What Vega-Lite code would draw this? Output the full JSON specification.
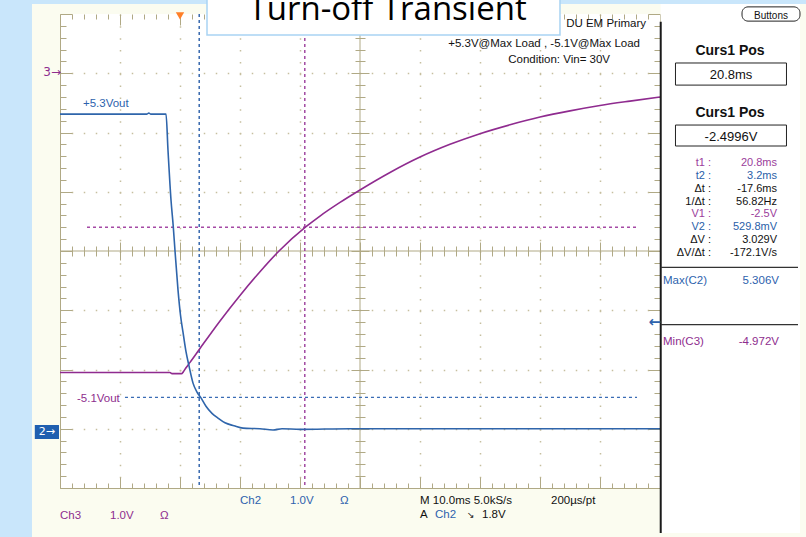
{
  "$schema": "https://vega.github.io/schema/vega-lite/v6.json",
  "width": 600,
  "height": 474,
  "autosize": {"type": "none"},
  "padding": {"left": 60, "top": 14, "right": 146, "bottom": 49},
  "background": "#fbfcf0",
  "config": {"view": {"stroke": null, "fill": "#ffffff"}, "axis": {"disable": true}},
  "data": {"values": [{}]},
  "datasets": {
    "ch2": [
      {"t": -20, "v": 5.31}, {"t": -5.5, "v": 5.31}, {"t": -5.2, "v": 5.33}, {"t": -4.9, "v": 5.31},
      {"t": -2.33, "v": 5.31}, {"t": -2.0, "v": 4.70}, {"t": -1.5, "v": 3.86}, {"t": -1.12, "v": 3.41},
      {"t": -0.83, "v": 3.00}, {"t": -0.33, "v": 2.34}, {"t": 0.08, "v": 1.92}, {"t": 0.5, "v": 1.63},
      {"t": 1.0, "v": 1.30}, {"t": 1.5, "v": 1.06}, {"t": 2.17, "v": 0.77}, {"t": 2.83, "v": 0.62},
      {"t": 3.5, "v": 0.52}, {"t": 4.33, "v": 0.38}, {"t": 5.33, "v": 0.26}, {"t": 6.33, "v": 0.18},
      {"t": 7.5, "v": 0.10}, {"t": 9.0, "v": 0.05}, {"t": 10.5, "v": 0.01}, {"t": 13.33, "v": 0.0},
      {"t": 15.5, "v": -0.02}, {"t": 17, "v": 0.0}, {"t": 20, "v": -0.01}, {"t": 28.3, "v": 0.0},
      {"t": 45, "v": 0.0}, {"t": 80, "v": 0.0}
    ],
    "ch3": [
      {"t": -20, "v": -4.95}, {"t": -1.67, "v": -4.95}, {"t": -1.33, "v": -4.97}, {"t": 0.25, "v": -4.97},
      {"t": 0.55, "v": -4.94}, {"t": 1.0, "v": -4.87}, {"t": 1.67, "v": -4.78}, {"t": 3.33, "v": -4.545},
      {"t": 6.67, "v": -4.08}, {"t": 10, "v": -3.65}, {"t": 13.33, "v": -3.25}, {"t": 16.5, "v": -2.90},
      {"t": 21, "v": -2.49}, {"t": 23.33, "v": -2.31}, {"t": 26.67, "v": -2.08}, {"t": 30, "v": -1.87},
      {"t": 35, "v": -1.575}, {"t": 40, "v": -1.315}, {"t": 45, "v": -1.10}, {"t": 50, "v": -0.92},
      {"t": 55, "v": -0.77}, {"t": 60, "v": -0.64}, {"t": 65, "v": -0.535}, {"t": 70, "v": -0.445},
      {"t": 75, "v": -0.37}, {"t": 80, "v": -0.30}
    ],
    "cursors": [
      {"cursor": "t1", "t": 20.8, "src": "C3"},
      {"cursor": "t2", "t": 3.2, "src": "C2"}
    ],
    "readout": [
      {"row": 1, "label": "t1 :", "value": "20.8ms", "src": "C3"},
      {"row": 2, "label": "t2 :", "value": "3.2ms", "src": "C2"},
      {"row": 3, "label": "Δt :", "value": "-17.6ms", "src": "calc"},
      {"row": 4, "label": "1/Δt :", "value": "56.82Hz", "src": "calc"},
      {"row": 5, "label": "V1 :", "value": "-2.5V", "src": "C3"},
      {"row": 6, "label": "V2 :", "value": "529.8mV", "src": "C2"},
      {"row": 7, "label": "ΔV :", "value": "3.029V", "src": "calc"},
      {"row": 8, "label": "ΔV/Δt :", "value": "-172.1V/s", "src": "calc"}
    ]
  },
  "layer": [
    {"mark": {"type": "rect", "color": "#c9e6fb"},
     "encoding": {"x": {"datum": -31, "type": "quantitative", "scale": {"domain": [-20, 80], "nice": false, "zero": false}}, "x2": {"datum": -24.67},
                  "y": {"datum": 7.4, "type": "quantitative", "scale": {"domain": [-1, 7], "nice": false, "zero": false}}, "y2": {"datum": -1.95}}},
    {"mark": {"type": "rect", "color": "#c9e6fb"},
     "encoding": {"x": {"datum": -31, "type": "quantitative", "scale": {"domain": [-20, 80], "nice": false, "zero": false}}, "x2": {"datum": 105},
                  "y": {"datum": 7.4, "type": "quantitative", "scale": {"domain": [-1, 7], "nice": false, "zero": false}}, "y2": {"datum": 7.169}}},
    {"mark": {"type": "rect", "color": "#ffffff"},
     "encoding": {"x": {"datum": 80.1, "type": "quantitative", "scale": {"domain": [-20, 80], "nice": false, "zero": false}}, "x2": {"datum": 103.33},
                  "y": {"datum": 7.169, "type": "quantitative", "scale": {"domain": [-1, 7], "nice": false, "zero": false}}, "y2": {"datum": -1.76}}},
    {"mark": {"type": "rule", "color": "#b0a985", "strokeWidth": 1},
     "encoding": {
       "x": {"datum": -20, "type": "quantitative", "scale": {"domain": [-20, 80], "nice": false, "zero": false},
             "axis": {"disable": false, "orient": "top", "offset": -474, "values": [-20,-18,-16,-14,-12,-10,-8,-6,-4,-2,0,2,4,6,8,10,12,14,16,18,20,22,24,26,28,30,32,34,36,38,40,42,44,46,48,50,52,54,56,58,60,62,64,66,68,70,72,74,76,78,80],
                      "tickSize": {"condition": {"test": "datum.value % 10 === 0", "value": 11}, "value": 5}, "tickColor": "#b0a985", "domain": true, "domainColor": "#b0a985", "labels": false, "grid": false, "title": null}},
       "x2": {"datum": 80},
       "y": {"datum": 3, "type": "quantitative", "scale": {"domain": [-1, 7], "nice": false, "zero": false},
             "axis": {"disable": false, "orient": "right", "offset": -600, "values": [-1,-0.8,-0.6,-0.4,-0.2,0,0.2,0.4,0.6,0.8,1,1.2,1.4,1.6,1.8,2,2.2,2.4,2.6,2.8,3,3.2,3.4,3.6,3.8,4,4.2,4.4,4.6,4.8,5,5.2,5.4,5.6,5.8,6,6.2,6.4,6.6,6.8,7],
                      "tickSize": {"condition": {"test": "datum.value % 1 === 0", "value": 12}, "value": 6}, "tickColor": "#b0a985", "domain": true, "domainColor": "#b0a985", "labels": false, "grid": false, "title": null}}
     }},
    {"mark": {"type": "rule", "color": "#b0a985", "strokeWidth": 1},
     "encoding": {
       "x": {"datum": 30, "type": "quantitative", "scale": {"domain": [-20, 80], "nice": false, "zero": false},
             "axis": {"disable": false, "orient": "bottom", "values": [-10, 0, 10, 20, 40, 50, 60, 70], "grid": true, "gridColor": "#c6bf9f", "gridDash": [1.5, 10.35], "gridWidth": 1.5, "ticks": false, "domain": false, "labels": false, "title": null}},
       "y": {"datum": -1, "type": "quantitative", "scale": {"domain": [-1, 7], "nice": false, "zero": false},
             "axis": {"disable": false, "orient": "left", "values": [0, 1, 2, 4, 5, 6], "grid": true, "gridColor": "#c6bf9f", "gridDash": [1.5, 10.5], "gridDashOffset": 0.75, "gridWidth": 1.5, "ticks": false, "domain": false, "labels": false, "title": null}},
       "y2": {"datum": 7}
     }},
    {"mark": {"type": "rule", "stroke": "#3a6cb5", "strokeWidth": 1.4, "strokeDash": [3, 3]},
     "encoding": {
       "x": {"datum": -9.17, "type": "quantitative", "scale": {"domain": [-20, 80], "nice": false, "zero": false},
             "axis": {"disable": false, "orient": "top", "offset": -242, "values": [-20,-18,-16,-14,-12,-10,-8,-6,-4,-2,0,2,4,6,8,10,12,14,16,18,20,22,24,26,28,30,32,34,36,38,40,42,44,46,48,50,52,54,56,58,60,62,64,66,68,70,72,74,76,78,80],
                      "tickSize": 10, "tickColor": "#b0a985", "domain": false, "labels": false, "grid": false, "title": null}},
       "x2": {"datum": 76.17},
       "y": {"datum": 0.5298, "type": "quantitative", "scale": {"domain": [-1, 7], "nice": false, "zero": false},
             "axis": {"disable": false, "orient": "left", "offset": -305, "values": [-1,-0.8,-0.6,-0.4,-0.2,0,0.2,0.4,0.6,0.8,1,1.2,1.4,1.6,1.8,2,2.2,2.4,2.6,2.8,3,3.2,3.4,3.6,3.8,4,4.2,4.4,4.6,4.8,5,5.2,5.4,5.6,5.8,6,6.2,6.4,6.6,6.8,7],
                      "tickSize": 10, "tickColor": "#b0a985", "domain": false, "labels": false, "grid": false, "title": null}}
     }},
    {"mark": {"type": "rule", "stroke": "#a54aa5", "strokeWidth": 1.4, "strokeDash": [3, 3]},
     "encoding": {
       "x": {"datum": -15.5, "type": "quantitative", "scale": {"domain": [-20, 80], "nice": false, "zero": false}},
       "x2": {"datum": 76.17},
       "y": {"datum": -2.5, "type": "quantitative", "scale": {"domain": [-6.9, 1.1], "nice": false, "zero": false}}
     }},
    {"data": {"name": "cursors"},
     "mark": {"type": "rule", "strokeWidth": 1.4, "strokeDash": [3, 3]},
     "encoding": {
       "x": {"field": "t", "type": "quantitative", "scale": {"domain": [-20, 80], "nice": false, "zero": false}},
       "color": {"field": "src", "type": "nominal", "scale": {"domain": ["C2", "C3", "calc"], "range": ["#2a5ea8", "#9b3d9b", "#111111"]}, "legend": null}
     }},
    {"data": {"name": "ch3"},
     "mark": {"type": "line", "color": "#8f2b8f", "strokeWidth": 1.6, "interpolate": "monotone"},
     "encoding": {
       "x": {"field": "t", "type": "quantitative", "scale": {"domain": [-20, 80], "nice": false, "zero": false}},
       "y": {"field": "v", "type": "quantitative", "scale": {"domain": [-6.9, 1.1], "nice": false, "zero": false}}
     }},
    {"data": {"name": "ch2"},
     "mark": {"type": "line", "color": "#2f65ab", "strokeWidth": 1.6, "interpolate": "monotone"},
     "encoding": {
       "x": {"field": "t", "type": "quantitative", "scale": {"domain": [-20, 80], "nice": false, "zero": false},
             "axis": {"disable": false, "orient": "bottom", "offset": -474, "values": [-20,-18,-16,-14,-12,-10,-8,-6,-4,-2,0,2,4,6,8,10,12,14,16,18,20,22,24,26,28,30,32,34,36,38,40,42,44,46,48,50,52,54,56,58,60,62,64,66,68,70,72,74,76,78,80],
                      "tickSize": {"condition": {"test": "datum.value % 10 === 0", "value": 11}, "value": 5}, "tickColor": "#b0a985", "domain": false, "labels": false, "grid": false, "title": null}},
       "y": {"field": "v", "type": "quantitative", "scale": {"domain": [-1, 7], "nice": false, "zero": false},
             "axis": {"disable": false, "orient": "left", "offset": -600, "values": [-1,-0.8,-0.6,-0.4,-0.2,0,0.2,0.4,0.6,0.8,1,1.2,1.4,1.6,1.8,2,2.2,2.4,2.6,2.8,3,3.2,3.4,3.6,3.8,4,4.2,4.4,4.6,4.8,5,5.2,5.4,5.6,5.8,6,6.2,6.4,6.6,6.8,7],
                      "tickSize": {"condition": {"test": "datum.value % 1 === 0", "value": 12}, "value": 6}, "tickColor": "#b0a985", "domain": false, "labels": false, "grid": false, "title": null}}
     }},
    {"mark": {"type": "rule", "color": "#1a1a1a", "strokeWidth": 2},
     "encoding": {
       "x": {"datum": 80.12, "type": "quantitative", "scale": {"domain": [-20, 80], "nice": false, "zero": false},
             "axis": {"disable": false, "orient": "top", "offset": -246, "values": [-20,-10,0,10,20,30,40,50,60,70,80], "tickSize": 18, "tickColor": "#b0a985", "domain": false, "labels": false, "grid": false, "title": null}},
       "y": {"datum": 6.87, "type": "quantitative", "scale": {"domain": [-1, 7], "nice": false, "zero": false},
             "axis": {"disable": false, "orient": "left", "offset": -309, "values": [-1,0,1,2,3,4,5,6,7], "tickSize": 18, "tickColor": "#b0a985", "domain": false, "labels": false, "grid": false, "title": null}},
       "y2": {"datum": -1.76}
     }},
    {"mark": {"type": "text", "text": "+5.3Vout", "align": "left", "baseline": "alphabetic", "font": "Liberation Sans", "fontSize": 11.5, "color": "#2d62ad"},
     "encoding": {"x": {"datum": -16.17, "type": "quantitative", "scale": {"domain": [-20, 80], "nice": false, "zero": false}}, "y": {"datum": 5.43, "type": "quantitative", "scale": {"domain": [-1, 7], "nice": false, "zero": false}}}},
    {"mark": {"type": "text", "text": "-5.1Vout", "align": "left", "baseline": "alphabetic", "font": "Liberation Sans", "fontSize": 11.5, "color": "#8e2d8e"},
     "encoding": {"x": {"datum": -17.17, "type": "quantitative", "scale": {"domain": [-20, 80], "nice": false, "zero": false}}, "y": {"datum": 0.451, "type": "quantitative", "scale": {"domain": [-1, 7], "nice": false, "zero": false}}}},
    {"mark": {"type": "text", "text": "3→", "align": "right", "baseline": "middle", "font": "DejaVu Sans", "fontSize": 12, "color": "#8e2d8e"},
     "encoding": {"x": {"datum": -19.83, "type": "quantitative", "scale": {"domain": [-20, 80], "nice": false, "zero": false}}, "y": {"datum": 6.02, "type": "quantitative", "scale": {"domain": [-1, 7], "nice": false, "zero": false}}}},
    {"mark": {"type": "rect", "color": "#1f5fb0"},
     "encoding": {"x": {"datum": -24.2, "type": "quantitative", "scale": {"domain": [-20, 80], "nice": false, "zero": false}}, "x2": {"datum": -20.17},
                  "y": {"datum": 0.063, "type": "quantitative", "scale": {"domain": [-1, 7], "nice": false, "zero": false}}, "y2": {"datum": -0.173}}},
    {"mark": {"type": "text", "text": "2→", "align": "center", "baseline": "middle", "font": "DejaVu Sans", "fontSize": 11, "color": "#ffffff"},
     "encoding": {"x": {"datum": -22.17, "type": "quantitative", "scale": {"domain": [-20, 80], "nice": false, "zero": false}}, "y": {"datum": -0.055, "type": "quantitative", "scale": {"domain": [-1, 7], "nice": false, "zero": false}}}},
    {"mark": {"type": "point", "shape": "triangle-down", "filled": true, "color": "#ff7f27", "size": 70, "opacity": 1},
     "encoding": {"x": {"datum": 0, "type": "quantitative", "scale": {"domain": [-20, 80], "nice": false, "zero": false}}, "y": {"datum": 6.967, "type": "quantitative", "scale": {"domain": [-1, 7], "nice": false, "zero": false}}}},
    {"mark": {"type": "text", "text": "←", "align": "right", "baseline": "middle", "font": "DejaVu Sans", "fontSize": 15, "fontWeight": "bold", "color": "#2d62ad"},
     "encoding": {"x": {"datum": 80.17, "type": "quantitative", "scale": {"domain": [-20, 80], "nice": false, "zero": false}}, "y": {"datum": 1.8, "type": "quantitative", "scale": {"domain": [-1, 7], "nice": false, "zero": false}}}},
    {"mark": {"type": "text", "text": "DU EM Primary", "align": "right", "baseline": "alphabetic", "font": "Liberation Sans", "fontSize": 11.5, "color": "#111111"},
     "encoding": {"x": {"datum": 77.67, "type": "quantitative", "scale": {"domain": [-20, 80], "nice": false, "zero": false}}, "y": {"datum": 6.78, "type": "quantitative", "scale": {"domain": [-1, 7], "nice": false, "zero": false}}}},
    {"mark": {"type": "text", "text": "+5.3V@Max Load , -5.1V@Max Load", "align": "right", "baseline": "alphabetic", "font": "Liberation Sans", "fontSize": 11.5, "color": "#111111"},
     "encoding": {"x": {"datum": 76.67, "type": "quantitative", "scale": {"domain": [-20, 80], "nice": false, "zero": false}}, "y": {"datum": 6.445, "type": "quantitative", "scale": {"domain": [-1, 7], "nice": false, "zero": false}}}},
    {"mark": {"type": "text", "text": "Condition: Vin= 30V", "align": "right", "baseline": "alphabetic", "font": "Liberation Sans", "fontSize": 11.5, "color": "#111111"},
     "encoding": {"x": {"datum": 71.67, "type": "quantitative", "scale": {"domain": [-20, 80], "nice": false, "zero": false}}, "y": {"datum": 6.17, "type": "quantitative", "scale": {"domain": [-1, 7], "nice": false, "zero": false}}}},
    {"mark": {"type": "rect", "fill": "#ffffff", "stroke": "#a9d3f3", "strokeWidth": 1.5},
     "encoding": {"x": {"datum": 4.5, "type": "quantitative", "scale": {"domain": [-20, 80], "nice": false, "zero": false}}, "x2": {"datum": 63.33},
                  "y": {"datum": 7.3, "type": "quantitative", "scale": {"domain": [-1, 7], "nice": false, "zero": false}}, "y2": {"datum": 6.646}}},
    {"mark": {"type": "text", "text": "Turn-off Transient", "align": "center", "baseline": "alphabetic", "font": "Open Sans", "fontSize": 33, "color": "#000000"},
     "encoding": {"x": {"datum": 34.6, "type": "quantitative", "scale": {"domain": [-20, 80], "nice": false, "zero": false}}, "y": {"datum": 6.9, "type": "quantitative", "scale": {"domain": [-1, 7], "nice": false, "zero": false}}}},
    {"mark": {"type": "text", "text": "Ch2", "align": "left", "baseline": "alphabetic", "font": "Liberation Sans", "fontSize": 11.5, "color": "#2d62ad"},
     "encoding": {"x": {"datum": 10, "type": "quantitative", "scale": {"domain": [-20, 80], "nice": false, "zero": false}}, "y": {"datum": -1.27, "type": "quantitative", "scale": {"domain": [-1, 7], "nice": false, "zero": false}}}},
    {"mark": {"type": "text", "text": "1.0V", "align": "left", "baseline": "alphabetic", "font": "Liberation Sans", "fontSize": 11.5, "color": "#2d62ad"},
     "encoding": {"x": {"datum": 18.33, "type": "quantitative", "scale": {"domain": [-20, 80], "nice": false, "zero": false}}, "y": {"datum": -1.27, "type": "quantitative", "scale": {"domain": [-1, 7], "nice": false, "zero": false}}}},
    {"mark": {"type": "text", "text": "Ω", "align": "left", "baseline": "alphabetic", "font": "Liberation Sans", "fontSize": 11.5, "color": "#2d62ad"},
     "encoding": {"x": {"datum": 26.67, "type": "quantitative", "scale": {"domain": [-20, 80], "nice": false, "zero": false}}, "y": {"datum": -1.27, "type": "quantitative", "scale": {"domain": [-1, 7], "nice": false, "zero": false}}}},
    {"mark": {"type": "text", "text": "Ch3", "align": "left", "baseline": "alphabetic", "font": "Liberation Sans", "fontSize": 11.5, "color": "#8e2d8e"},
     "encoding": {"x": {"datum": -20, "type": "quantitative", "scale": {"domain": [-20, 80], "nice": false, "zero": false}}, "y": {"datum": -1.515, "type": "quantitative", "scale": {"domain": [-1, 7], "nice": false, "zero": false}}}},
    {"mark": {"type": "text", "text": "1.0V", "align": "left", "baseline": "alphabetic", "font": "Liberation Sans", "fontSize": 11.5, "color": "#8e2d8e"},
     "encoding": {"x": {"datum": -11.67, "type": "quantitative", "scale": {"domain": [-20, 80], "nice": false, "zero": false}}, "y": {"datum": -1.515, "type": "quantitative", "scale": {"domain": [-1, 7], "nice": false, "zero": false}}}},
    {"mark": {"type": "text", "text": "Ω", "align": "left", "baseline": "alphabetic", "font": "Liberation Sans", "fontSize": 11.5, "color": "#8e2d8e"},
     "encoding": {"x": {"datum": -3.33, "type": "quantitative", "scale": {"domain": [-20, 80], "nice": false, "zero": false}}, "y": {"datum": -1.515, "type": "quantitative", "scale": {"domain": [-1, 7], "nice": false, "zero": false}}}},
    {"mark": {"type": "text", "text": "M 10.0ms 5.0kS/s", "align": "left", "baseline": "alphabetic", "font": "Liberation Sans", "fontSize": 11.5, "color": "#111111"},
     "encoding": {"x": {"datum": 40, "type": "quantitative", "scale": {"domain": [-20, 80], "nice": false, "zero": false}}, "y": {"datum": -1.27, "type": "quantitative", "scale": {"domain": [-1, 7], "nice": false, "zero": false}}}},
    {"mark": {"type": "text", "text": "200µs/pt", "align": "left", "baseline": "alphabetic", "font": "Liberation Sans", "fontSize": 11.5, "color": "#111111"},
     "encoding": {"x": {"datum": 61.83, "type": "quantitative", "scale": {"domain": [-20, 80], "nice": false, "zero": false}}, "y": {"datum": -1.27, "type": "quantitative", "scale": {"domain": [-1, 7], "nice": false, "zero": false}}}},
    {"mark": {"type": "text", "text": "A", "align": "left", "baseline": "alphabetic", "font": "Liberation Sans", "fontSize": 11.5, "color": "#111111"},
     "encoding": {"x": {"datum": 40, "type": "quantitative", "scale": {"domain": [-20, 80], "nice": false, "zero": false}}, "y": {"datum": -1.498, "type": "quantitative", "scale": {"domain": [-1, 7], "nice": false, "zero": false}}}},
    {"mark": {"type": "text", "text": "Ch2", "align": "left", "baseline": "alphabetic", "font": "Liberation Sans", "fontSize": 11.5, "color": "#2d62ad"},
     "encoding": {"x": {"datum": 42.5, "type": "quantitative", "scale": {"domain": [-20, 80], "nice": false, "zero": false}}, "y": {"datum": -1.498, "type": "quantitative", "scale": {"domain": [-1, 7], "nice": false, "zero": false}}}},
    {"mark": {"type": "text", "text": "↘", "align": "left", "baseline": "alphabetic", "font": "DejaVu Sans", "fontSize": 9, "color": "#111111"},
     "encoding": {"x": {"datum": 47.83, "type": "quantitative", "scale": {"domain": [-20, 80], "nice": false, "zero": false}}, "y": {"datum": -1.498, "type": "quantitative", "scale": {"domain": [-1, 7], "nice": false, "zero": false}}}},
    {"mark": {"type": "text", "text": "1.8V", "align": "left", "baseline": "alphabetic", "font": "Liberation Sans", "fontSize": 11.5, "color": "#111111"},
     "encoding": {"x": {"datum": 50.33, "type": "quantitative", "scale": {"domain": [-20, 80], "nice": false, "zero": false}}, "y": {"datum": -1.498, "type": "quantitative", "scale": {"domain": [-1, 7], "nice": false, "zero": false}}}},
    {"mark": {"type": "rect", "fill": "#ffffff", "stroke": "#222222", "strokeWidth": 1, "cornerRadius": 6},
     "encoding": {"x": {"datum": 93.67, "type": "quantitative", "scale": {"domain": [-20, 80], "nice": false, "zero": false}}, "x2": {"datum": 103.33},
                  "y": {"datum": 7.12, "type": "quantitative", "scale": {"domain": [-1, 7], "nice": false, "zero": false}}, "y2": {"datum": 6.88}}},
    {"mark": {"type": "text", "text": "Buttons", "align": "center", "baseline": "alphabetic", "font": "Liberation Sans", "fontSize": 10, "color": "#111111"},
     "encoding": {"x": {"datum": 98.5, "type": "quantitative", "scale": {"domain": [-20, 80], "nice": false, "zero": false}}, "y": {"datum": 6.92, "type": "quantitative", "scale": {"domain": [-1, 7], "nice": false, "zero": false}}}},
    {"mark": {"type": "text", "text": "Curs1 Pos", "align": "center", "baseline": "alphabetic", "font": "Liberation Sans", "fontSize": 14, "fontWeight": "bold", "color": "#111111"},
     "encoding": {"x": {"datum": 91.67, "type": "quantitative", "scale": {"domain": [-20, 80], "nice": false, "zero": false}}, "y": {"datum": 6.307, "type": "quantitative", "scale": {"domain": [-1, 7], "nice": false, "zero": false}}}},
    {"mark": {"type": "rect", "fill": "#ffffff", "stroke": "#222222", "strokeWidth": 1},
     "encoding": {"x": {"datum": 82.58, "type": "quantitative", "scale": {"domain": [-20, 80], "nice": false, "zero": false}}, "x2": {"datum": 101.08},
                  "y": {"datum": 6.173, "type": "quantitative", "scale": {"domain": [-1, 7], "nice": false, "zero": false}}, "y2": {"datum": 5.80}}},
    {"mark": {"type": "text", "text": "20.8ms", "align": "center", "baseline": "alphabetic", "font": "Liberation Sans", "fontSize": 13, "color": "#111111"},
     "encoding": {"x": {"datum": 91.83, "type": "quantitative", "scale": {"domain": [-20, 80], "nice": false, "zero": false}}, "y": {"datum": 5.903, "type": "quantitative", "scale": {"domain": [-1, 7], "nice": false, "zero": false}}}},
    {"mark": {"type": "text", "text": "Curs1 Pos", "align": "center", "baseline": "alphabetic", "font": "Liberation Sans", "fontSize": 14, "fontWeight": "bold", "color": "#111111"},
     "encoding": {"x": {"datum": 91.67, "type": "quantitative", "scale": {"domain": [-20, 80], "nice": false, "zero": false}}, "y": {"datum": 5.261, "type": "quantitative", "scale": {"domain": [-1, 7], "nice": false, "zero": false}}}},
    {"mark": {"type": "rect", "fill": "#ffffff", "stroke": "#222222", "strokeWidth": 1},
     "encoding": {"x": {"datum": 82.58, "type": "quantitative", "scale": {"domain": [-20, 80], "nice": false, "zero": false}}, "x2": {"datum": 101.08},
                  "y": {"datum": 5.126, "type": "quantitative", "scale": {"domain": [-1, 7], "nice": false, "zero": false}}, "y2": {"datum": 4.772}}},
    {"mark": {"type": "text", "text": "-2.4996V", "align": "center", "baseline": "alphabetic", "font": "Liberation Sans", "fontSize": 13, "color": "#111111"},
     "encoding": {"x": {"datum": 91.83, "type": "quantitative", "scale": {"domain": [-20, 80], "nice": false, "zero": false}}, "y": {"datum": 4.857, "type": "quantitative", "scale": {"domain": [-1, 7], "nice": false, "zero": false}}}},
    {"data": {"name": "readout"},
     "mark": {"type": "text", "align": "right", "baseline": "alphabetic", "font": "Liberation Sans", "fontSize": 11},
     "encoding": {
       "x": {"datum": 88.5, "type": "quantitative", "scale": {"domain": [-20, 80], "nice": false, "zero": false}},
       "y": {"field": "row", "type": "quantitative", "scale": {"domain": [-10.822, 26.045], "reverse": true, "nice": false, "zero": false}},
       "text": {"field": "label"},
       "color": {"field": "src", "type": "nominal", "scale": {"domain": ["C2", "C3", "calc"], "range": ["#2a5ea8", "#9b3d9b", "#111111"]}, "legend": null}
     }},
    {"data": {"name": "readout"},
     "mark": {"type": "text", "align": "right", "baseline": "alphabetic", "font": "Liberation Sans", "fontSize": 11},
     "encoding": {
       "x": {"datum": 99.5, "type": "quantitative", "scale": {"domain": [-20, 80], "nice": false, "zero": false}},
       "y": {"field": "row", "type": "quantitative", "scale": {"domain": [-10.822, 26.045], "reverse": true, "nice": false, "zero": false}},
       "text": {"field": "value"},
       "color": {"field": "src", "type": "nominal", "scale": {"domain": ["C2", "C3", "calc"], "range": ["#2a5ea8", "#9b3d9b", "#111111"]}, "legend": null}
     }},
    {"mark": {"type": "rule", "color": "#333333", "strokeWidth": 1.2},
     "encoding": {"x": {"datum": 80.1, "type": "quantitative", "scale": {"domain": [-20, 80], "nice": false, "zero": false}}, "x2": {"datum": 103},
                  "y": {"datum": 2.722, "type": "quantitative", "scale": {"domain": [-1, 7], "nice": false, "zero": false}}}},
    {"mark": {"type": "rule", "color": "#333333", "strokeWidth": 1.2},
     "encoding": {"x": {"datum": 80.1, "type": "quantitative", "scale": {"domain": [-20, 80], "nice": false, "zero": false}}, "x2": {"datum": 103},
                  "y": {"datum": 1.759, "type": "quantitative", "scale": {"domain": [-1, 7], "nice": false, "zero": false}}}},
    {"mark": {"type": "text", "text": "Max(C2)", "align": "left", "baseline": "alphabetic", "font": "Liberation Sans", "fontSize": 11.5, "color": "#2d62ad"},
     "encoding": {"x": {"datum": 80.5, "type": "quantitative", "scale": {"domain": [-20, 80], "nice": false, "zero": false}}, "y": {"datum": 2.443, "type": "quantitative", "scale": {"domain": [-1, 7], "nice": false, "zero": false}}}},
    {"mark": {"type": "text", "text": "5.306V", "align": "right", "baseline": "alphabetic", "font": "Liberation Sans", "fontSize": 11.5, "color": "#2d62ad"},
     "encoding": {"x": {"datum": 99.83, "type": "quantitative", "scale": {"domain": [-20, 80], "nice": false, "zero": false}}, "y": {"datum": 2.443, "type": "quantitative", "scale": {"domain": [-1, 7], "nice": false, "zero": false}}}},
    {"mark": {"type": "text", "text": "Min(C3)", "align": "left", "baseline": "alphabetic", "font": "Liberation Sans", "fontSize": 11.5, "color": "#8e2d8e"},
     "encoding": {"x": {"datum": 80.5, "type": "quantitative", "scale": {"domain": [-20, 80], "nice": false, "zero": false}}, "y": {"datum": 1.414, "type": "quantitative", "scale": {"domain": [-1, 7], "nice": false, "zero": false}}}},
    {"mark": {"type": "text", "text": "-4.972V", "align": "right", "baseline": "alphabetic", "font": "Liberation Sans", "fontSize": 11.5, "color": "#8e2d8e"},
     "encoding": {"x": {"datum": 99.83, "type": "quantitative", "scale": {"domain": [-20, 80], "nice": false, "zero": false}}, "y": {"datum": 1.414, "type": "quantitative", "scale": {"domain": [-1, 7], "nice": false, "zero": false}}}}
  ],
  "resolve": {"scale": {"y": "independent"}, "axis": {"x": "independent", "y": "independent"}}
}
